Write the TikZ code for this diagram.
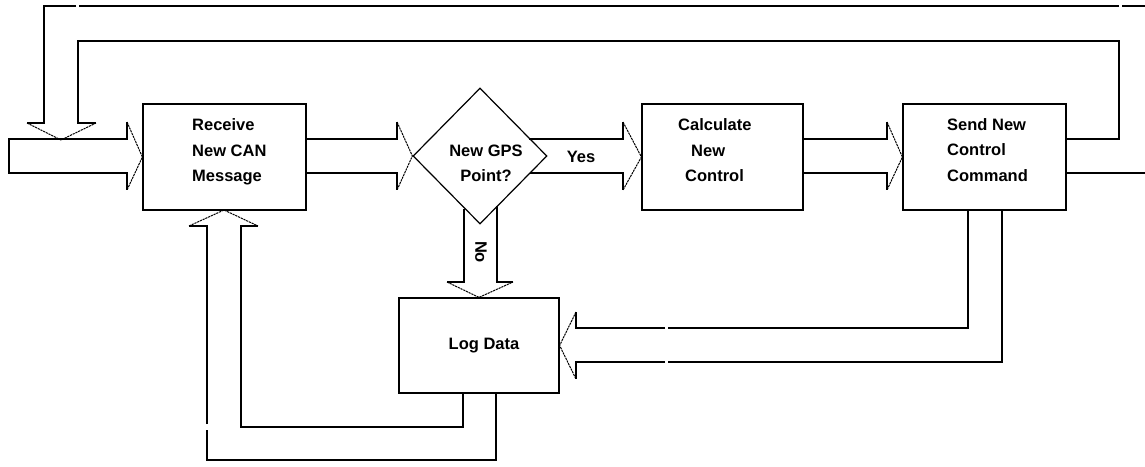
\documentclass[tikz,border=0pt]{standalone}
\usepackage{fontspec}
\setmainfont{Liberation Sans}
\usetikzlibrary{shapes.geometric,calc}
\begin{document}
\begin{tikzpicture}[x=1pt,y=-1pt,
  box/.style={draw,line width=1.2pt,inner sep=0pt,minimum width=163pt,minimum height=106pt},
  ln/.style={line width=1.2pt,line join=miter},
  hd/.style={line width=1pt,dash pattern=on 2.2pt off 0.8pt},
  lbl/.style={font=\bfseries\fontsize{16.5}{25.5}\selectfont,align=left,inner sep=0pt}]
\useasboundingbox (0,0) rectangle (1145,466);

% boxes
\node[box] (recv) at (224.5,157) {};
\node[box,minimum width=161pt] (calc) at (722.5,157) {};
\node[box] (send) at (984.5,157) {};
\node[box,minimum width=160pt,minimum height=95pt] (log) at (479,345.5) {};
\node[draw,diamond,line width=1.2pt,inner sep=0pt,minimum width=134pt,minimum height=136pt] (dia) at (480,156) {};

% texts
\node[lbl,anchor=west] (recvt) at (192,152) {Receive\\New CAN\\Message};
\node[lbl,anchor=west] (calct) at (678,150.5) {Calculate\\\hspace{13pt}New\\\hspace{7pt}Control};
\node[lbl,anchor=west] (sendt) at (947,150) {Send New\\Control\\Command};
\node[lbl,align=center] (diat) at (486,163.5) {New GPS\\Point?};
\node[lbl] (logt) at (484,345.5) {Log Data};
\node[lbl] (yes) at (581,157) {Yes};
\node[lbl,rotate=-90] (no) at (481,252) {No};

% input arrow
\draw[ln] (127,122) -- (127,139) -- (9,139) -- (9,173) -- (127,173) -- (127,190);
\draw[hd] (127,122) -- (recv.west) -- (127,190);

% feedback arrow over the top
\draw[ln] (1145,6) -- (1122,6);
\draw[ln] (1119,6) -- (79,6);
\draw[ln] (76,6) -- (44,6) -- (44,123) -- (27,123);
\draw[ln] (send.east |- 0,139) -- (1119,139) -- (1119,41) -- (78,41) -- (78,123) -- (96,123);
\draw[hd] (27,123) -- (61,140) -- (96,123);
\draw[ln] (send.east |- 0,173) -- (1145,173);

% receive -> diamond
\draw[ln] (recv.east |- 0,139) -- (397,139) -- (397,122);
\draw[ln] (recv.east |- 0,173) -- (397,173) -- (397,190);
\draw[hd] (397,122) -- (dia.west) -- (397,190);

% yes arrow
\draw[ln] (529,139) -- (623,139) -- (623,122);
\draw[ln] (530,173) -- (623,173) -- (623,190);
\draw[hd] (623,122) -- (calc.west) -- (623,190);

% calc -> send
\draw[ln] (calc.east |- 0,139) -- (887,139) -- (887,122);
\draw[ln] (calc.east |- 0,173) -- (887,173) -- (887,190);
\draw[hd] (887,122) -- (send.west) -- (887,190);

% no arrow
\draw[ln] (464,208.5) -- (464,282) -- (447,282);
\draw[ln] (497,206) -- (497,282) -- (513,282);
\draw[hd] (447,282) -- (log.north) -- (513,282);

% send -> log
\draw[ln] (968,210) -- (968,328) -- (668,328);
\draw[ln] (665,328) -- (576,328) -- (576,312);
\draw[ln] (1002,210) -- (1002,362) -- (668,362);
\draw[ln] (665,362) -- (576,362) -- (576,379);
\draw[hd] (576,312) -- (log.east) -- (576,379);

% log -> receive
\draw[ln] (463,393) -- (463,427) -- (241,427) -- (241,226) -- (258,226);
\draw[ln] (496,393) -- (496,460) -- (207,460) -- (207,430);
\draw[ln] (207,424) -- (207,226) -- (189,226);
\draw[hd] (189,226) -- (224,210) -- (258,226);
\end{tikzpicture}
\end{document}
